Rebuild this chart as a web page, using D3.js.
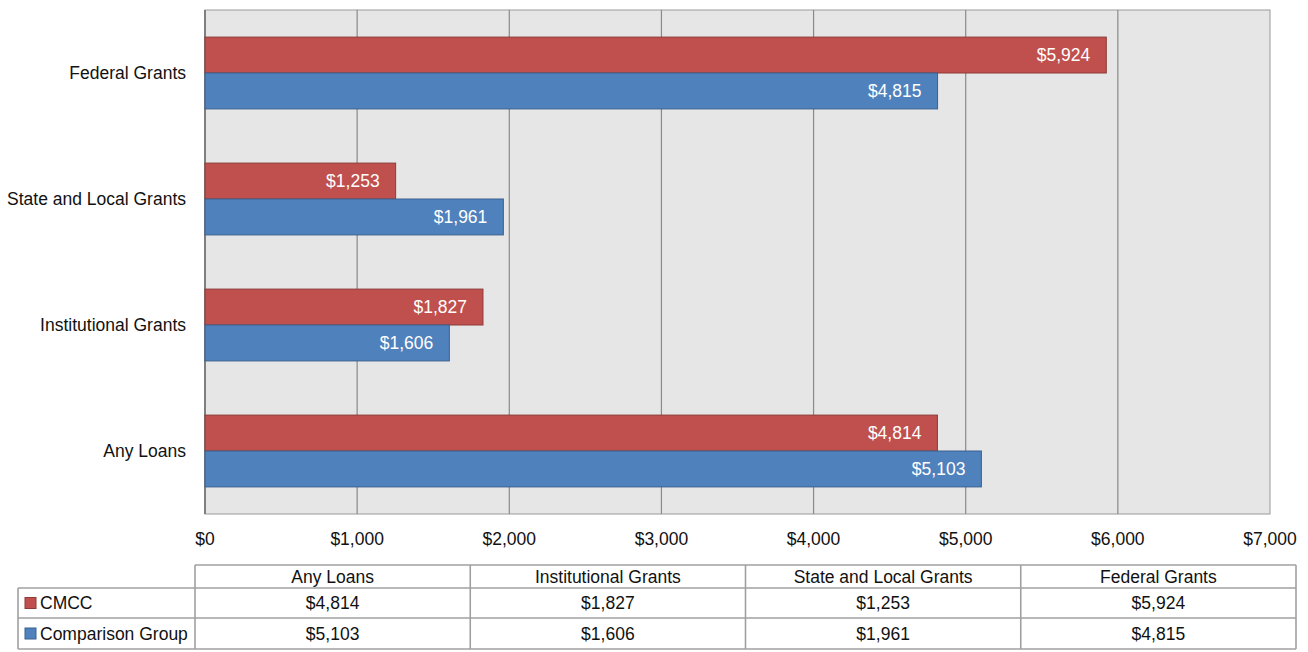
<!DOCTYPE html>
<html>
<head>
<meta charset="utf-8">
<script src="https://cdn.jsdelivr.net/npm/d3@7"></script>
<style>
  body { margin: 0; background: #fff; }
  svg text { font-family: "Liberation Sans", Arial, sans-serif; }
</style>
</head>
<body>
<script>
// Chart data
var categories = ["Federal Grants", "State and Local Grants", "Institutional Grants", "Any Loans"];
var seriesNames = ["CMCC", "Comparison Group"];
var cmccValues = [5924, 1253, 1827, 4814];
var comparisonValues = [4815, 1961, 1606, 5103];
var xTicks = [0, 1000, 2000, 3000, 4000, 5000, 6000, 7000];
// the table lists the categories bottom-up, as Excel does
var tableOrder = ["Any Loans", "Institutional Grants", "State and Local Grants", "Federal Grants"];

var colors = ["#C0504D", "#4F81BD"];
var strokes = ["#8C3A38", "#3A6090"];
var fontSize = "17.5px";

var width = 1308, height = 652;
var plot = {left: 205, right: 1270, top: 10, bottom: 514};

var svg = d3.select("body").append("svg")
  .attr("width", width)
  .attr("height", height);

var fmt = function (v) { return "$" + d3.format(",")(v); };

// Scales
var x = d3.scaleLinear().domain([0, 7000]).range([plot.left, plot.right]);
var y = d3.scaleBand().domain(categories).range([plot.top, plot.bottom]).paddingInner(0.43).paddingOuter(0.215);
var sub = d3.scaleBand().domain(seriesNames).range([0, y.bandwidth()]);

// Plot background
svg.append("rect")
  .attr("x", plot.left).attr("y", plot.top)
  .attr("width", plot.right - plot.left).attr("height", plot.bottom - plot.top)
  .attr("fill", "#E6E6E6")
  .attr("stroke", "#9A9A9A").attr("stroke-width", 1);

// Gridlines
svg.append("g").selectAll("line")
  .data(xTicks.slice(1, -1))
  .enter().append("line")
  .attr("x1", function (d) { return x(d); })
  .attr("x2", function (d) { return x(d); })
  .attr("y1", plot.top).attr("y2", plot.bottom)
  .attr("stroke", "#8A8A8A").attr("stroke-width", 1.2);

// Category axis line
svg.append("line")
  .attr("x1", plot.left).attr("x2", plot.left)
  .attr("y1", plot.top).attr("y2", plot.bottom)
  .attr("stroke", "#7F7F7F").attr("stroke-width", 2);

// Bars
var rows = categories.map(function (c, i) {
  return {cat: c, vals: [cmccValues[i], comparisonValues[i]]};
});

var groups = svg.append("g").selectAll("g")
  .data(rows)
  .enter().append("g")
  .attr("transform", function (d) { return "translate(0," + y(d.cat) + ")"; });

groups.selectAll("rect")
  .data(function (d) { return d.vals.map(function (v, j) { return {v: v, s: seriesNames[j], j: j}; }); })
  .enter().append("rect")
  .attr("x", x(0))
  .attr("y", function (d) { return sub(d.s); })
  .attr("width", function (d) { return x(d.v) - x(0); })
  .attr("height", sub.bandwidth())
  .attr("fill", function (d) { return colors[d.j]; })
  .attr("stroke", function (d) { return strokes[d.j]; })
  .attr("stroke-width", 1);

groups.selectAll("text")
  .data(function (d) { return d.vals.map(function (v, j) { return {v: v, s: seriesNames[j]}; }); })
  .enter().append("text")
  .attr("x", function (d) { return x(d.v) - 16; })
  .attr("y", function (d) { return sub(d.s) + sub.bandwidth() / 2; })
  .attr("dy", "0.36em")
  .attr("text-anchor", "end")
  .attr("fill", "#fff")
  .style("font-size", fontSize)
  .text(function (d) { return fmt(d.v); });

// Category labels
svg.append("g").selectAll("text")
  .data(categories)
  .enter().append("text")
  .attr("x", 186)
  .attr("y", function (d) { return y(d) + y.bandwidth() / 2; })
  .attr("dy", "0.36em")
  .attr("text-anchor", "end")
  .attr("fill", "#111")
  .style("font-size", fontSize)
  .text(function (d) { return d; });

// Value axis labels
svg.append("g").selectAll("text")
  .data(xTicks)
  .enter().append("text")
  .attr("x", function (d) { return x(d); })
  .attr("y", 539)
  .attr("dy", "0.36em")
  .attr("text-anchor", "middle")
  .attr("fill", "#111")
  .style("font-size", fontSize)
  .text(fmt);

// Data table
var tbl = {left: 18, firstCol: 195, right: 1296, rowsY: [565, 588, 618, 649]};
var colX = d3.scaleBand().domain(tableOrder).range([tbl.firstCol, tbl.right]);
var tg = svg.append("g");
var lineColor = "#A0A0A0";

// horizontal lines
tg.append("line").attr("x1", tbl.firstCol).attr("x2", tbl.right)
  .attr("y1", tbl.rowsY[0]).attr("y2", tbl.rowsY[0]);
tbl.rowsY.slice(1).forEach(function (yy) {
  tg.append("line").attr("x1", tbl.left).attr("x2", tbl.right).attr("y1", yy).attr("y2", yy);
});
// vertical lines
tg.append("line").attr("x1", tbl.left).attr("x2", tbl.left)
  .attr("y1", tbl.rowsY[1]).attr("y2", tbl.rowsY[3]);
tableOrder.forEach(function (c) {
  tg.append("line").attr("x1", colX(c)).attr("x2", colX(c))
    .attr("y1", tbl.rowsY[0]).attr("y2", tbl.rowsY[3]);
});
tg.append("line").attr("x1", tbl.right).attr("x2", tbl.right)
  .attr("y1", tbl.rowsY[0]).attr("y2", tbl.rowsY[3]);
tg.selectAll("line").attr("stroke", lineColor).attr("stroke-width", 1.6);

// header
tg.selectAll("text.head")
  .data(tableOrder)
  .enter().append("text")
  .attr("class", "head")
  .attr("x", function (d) { return colX(d) + colX.bandwidth() / 2; })
  .attr("y", (tbl.rowsY[0] + tbl.rowsY[1]) / 2)
  .attr("dy", "0.36em")
  .attr("text-anchor", "middle")
  .attr("fill", "#111")
  .style("font-size", fontSize)
  .text(function (d) { return d; });

var seriesVals = [cmccValues, comparisonValues];
seriesNames.forEach(function (s, j) {
  var cy = (tbl.rowsY[j + 1] + tbl.rowsY[j + 2]) / 2;
  tg.append("rect")
    .attr("x", 25).attr("y", cy - 5.5)
    .attr("width", 11).attr("height", 11)
    .attr("fill", colors[j]).attr("stroke", strokes[j]).attr("stroke-width", 1);
  tg.append("text")
    .attr("x", 40).attr("y", cy).attr("dy", "0.36em")
    .attr("fill", "#111")
    .style("font-size", fontSize)
    .text(s);
  tg.selectAll("text.v" + j)
    .data(tableOrder)
    .enter().append("text")
    .attr("class", "v" + j)
    .attr("x", function (d) { return colX(d) + colX.bandwidth() / 2; })
    .attr("y", cy).attr("dy", "0.36em")
    .attr("text-anchor", "middle")
    .attr("fill", "#111")
    .style("font-size", fontSize)
    .text(function (d) { return fmt(seriesVals[j][categories.indexOf(d)]); });
});
</script>
</body>
</html>
